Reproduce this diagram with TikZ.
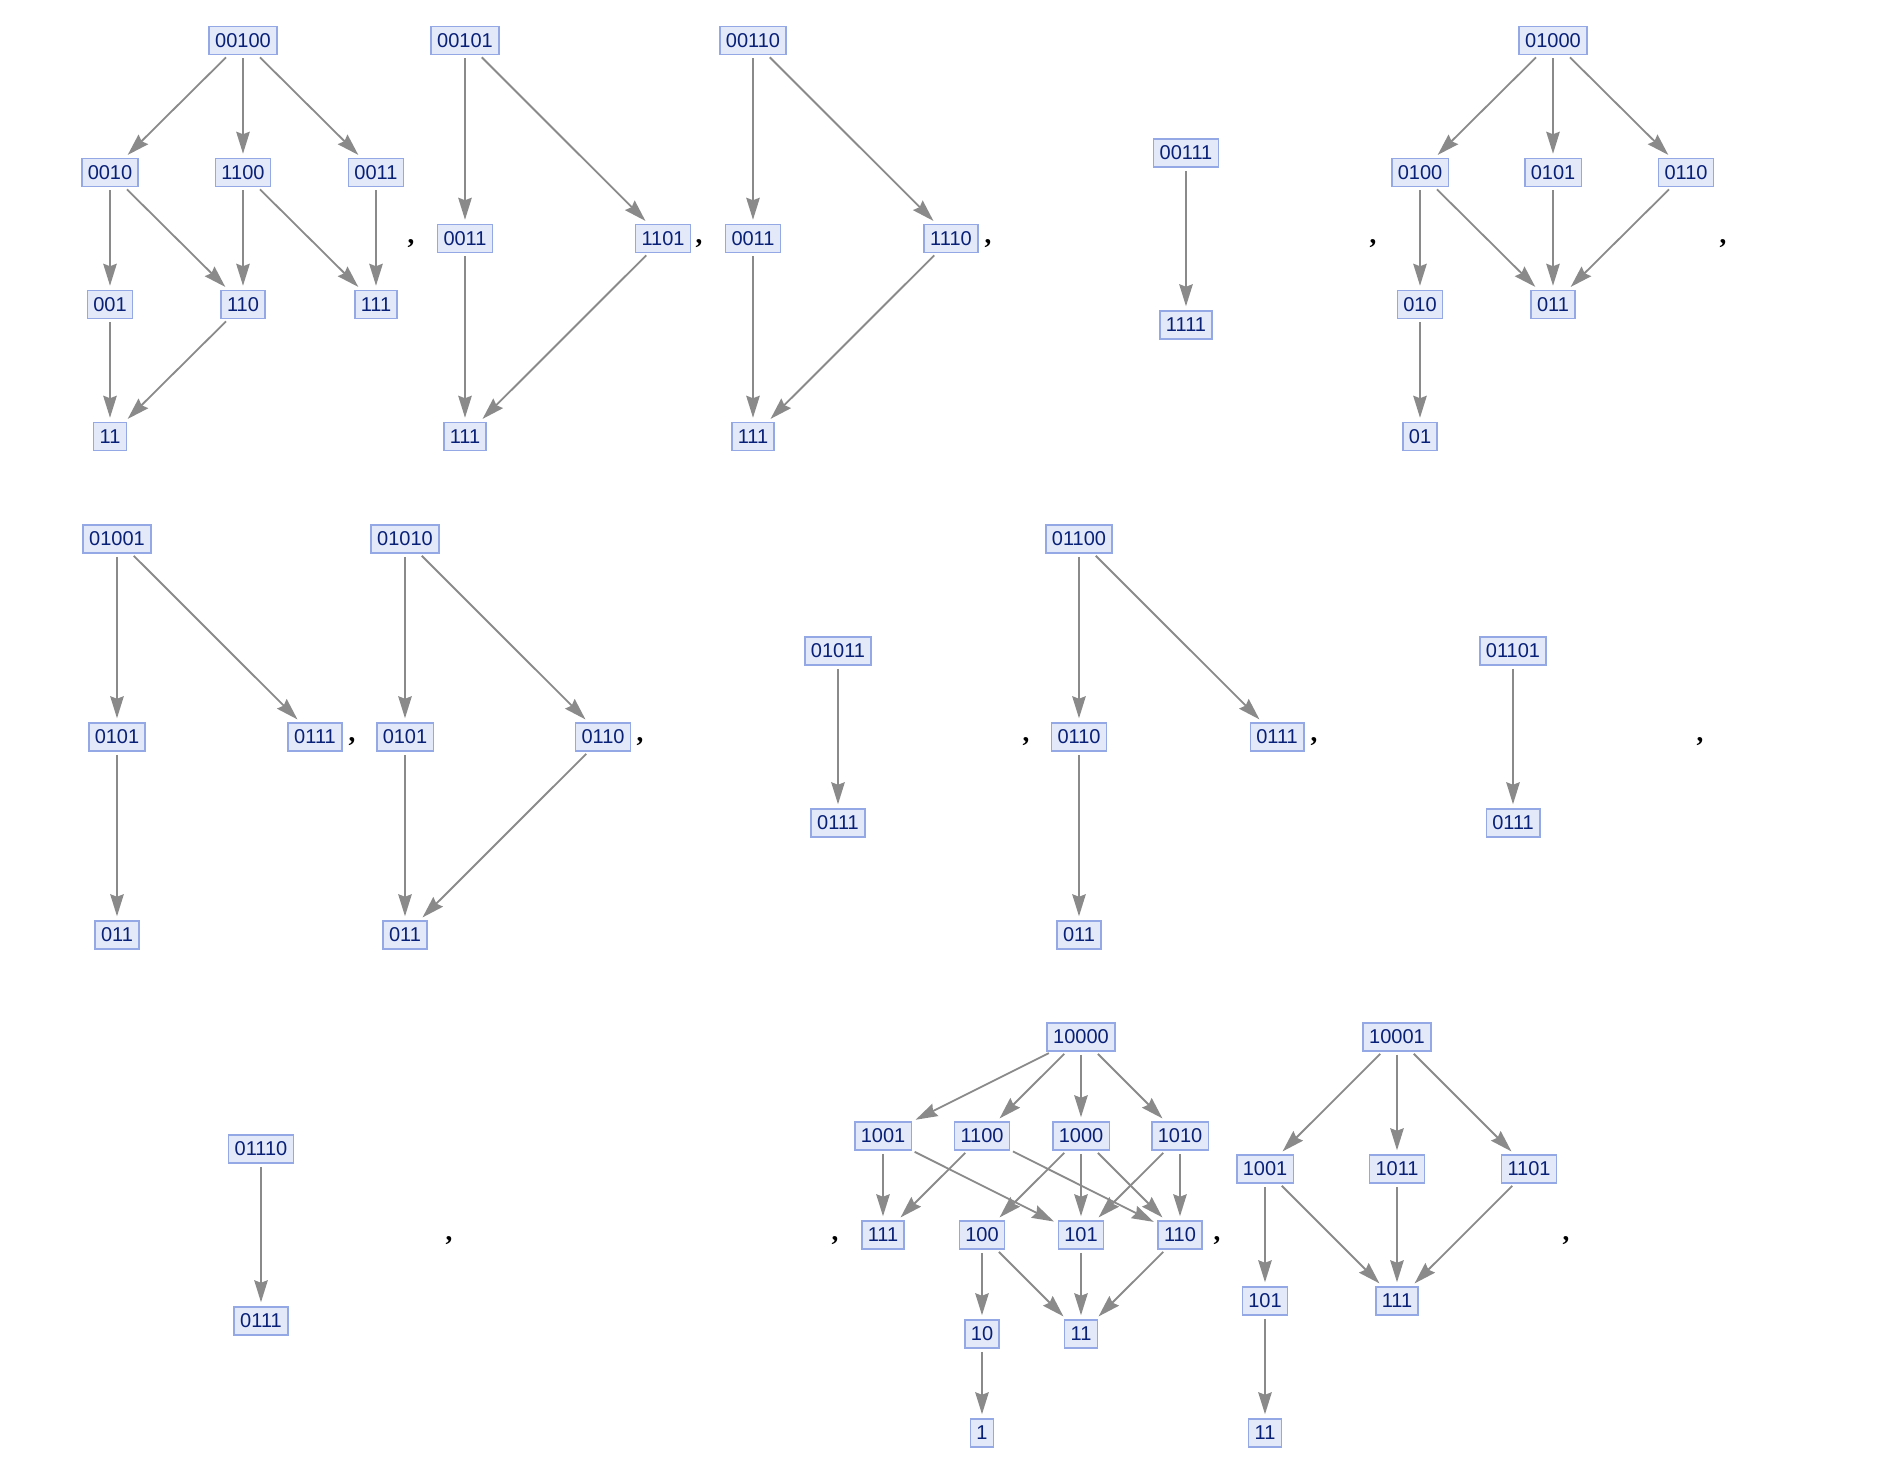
\documentclass[tikz,border=0pt]{standalone}
\usepackage{fontspec}
\usetikzlibrary{arrows.meta}
\newfontfamily\vfontfam{Liberation Sans}
\newfontfamily\cmfontfam{Liberation Serif}
\newcommand\vfont{\vfontfam\fontsize{20}{21}\selectfont}
\newcommand\cmfont{\cmfontfam\bfseries\fontsize{27}{28}\selectfont}
\definecolor{vfill}{RGB}{227,233,248}
\definecolor{vborder}{RGB}{148,168,230}
\definecolor{vtext}{RGB}{8,32,120}
\definecolor{ecol}{RGB}{138,138,138}
\tikzset{
  vbox/.style={draw=vborder, fill=vfill, line width=1.5pt, text=vtext, inner xsep=6pt, inner ysep=0pt, minimum height=28pt, font=\vfont},
  edgearr/.style={draw=ecol, line width=1.8pt, -{Stealth[length=22pt,width=13.5pt,inset=2.5pt,color=ecol]}, shorten <=3pt, shorten >=4pt},
  commalbl/.style={anchor=base, inner sep=0pt, font=\cmfont}
}
\begin{document}
\begin{tikzpicture}[x=1pt,y=-1pt]
\useasboundingbox (0,0) rectangle (1888,1480);
% ---------- Row 1 ----------
% Graph A
\node[vbox] (A00100) at (243,40.5) {00100};
\node[vbox] (A0010) at (110,172.5) {0010};
\node[vbox] (A1100) at (243,172.5) {1100};
\node[vbox] (A0011) at (376,172.5) {0011};
\node[vbox] (A001) at (110,304.5) {001};
\node[vbox] (A110) at (243,304.5) {110};
\node[vbox] (A111) at (376,304.5) {111};
\node[vbox] (A11) at (110,436.5) {11};
\foreach \s/\t in {A00100/A0010,A00100/A1100,A00100/A0011,A0010/A001,A0010/A110,A1100/A110,A1100/A111,A0011/A111,A001/A11,A110/A11}
  \draw[edgearr] (\s) -- (\t);
\node[commalbl] (c1) at (411,243) {,};
% Graph B
\node[vbox] (B00101) at (465,40.5) {00101};
\node[vbox] (B0011) at (465,238.5) {0011};
\node[vbox] (B1101) at (663,238.5) {1101};
\node[vbox] (B111) at (465,436.5) {111};
\foreach \s/\t in {B00101/B0011,B00101/B1101,B0011/B111,B1101/B111}
  \draw[edgearr] (\s) -- (\t);
\node[commalbl] (c2) at (699,243) {,};
% Graph C
\node[vbox] (C00110) at (753,40.5) {00110};
\node[vbox] (C0011) at (753,238.5) {0011};
\node[vbox] (C1110) at (951,238.5) {1110};
\node[vbox] (C111) at (753,436.5) {111};
\foreach \s/\t in {C00110/C0011,C00110/C1110,C0011/C111,C1110/C111}
  \draw[edgearr] (\s) -- (\t);
\node[commalbl] (c3) at (988,243) {,};
% Graph D
\node[vbox] (D00111) at (1186,153) {00111};
\node[vbox] (D1111) at (1186,325) {1111};
\draw[edgearr] (D00111) -- (D1111);
\node[commalbl] (c4) at (1373,243) {,};
% Graph E
\node[vbox] (E01000) at (1553,40.5) {01000};
\node[vbox] (E0100) at (1420,172.5) {0100};
\node[vbox] (E0101) at (1553,172.5) {0101};
\node[vbox] (E0110) at (1686,172.5) {0110};
\node[vbox] (E010) at (1420,304.5) {010};
\node[vbox] (E011) at (1553,304.5) {011};
\node[vbox] (E01) at (1420,436.5) {01};
\foreach \s/\t in {E01000/E0100,E01000/E0101,E01000/E0110,E0100/E010,E0100/E011,E0101/E011,E0110/E011,E010/E01}
  \draw[edgearr] (\s) -- (\t);
\node[commalbl] (c5) at (1723,243) {,};
% ---------- Row 2 ----------
% Graph F
\node[vbox] (F01001) at (117,539) {01001};
\node[vbox] (F0101) at (117,737) {0101};
\node[vbox] (F0111) at (315,737) {0111};
\node[vbox] (F011) at (117,935) {011};
\foreach \s/\t in {F01001/F0101,F01001/F0111,F0101/F011}
  \draw[edgearr] (\s) -- (\t);
\node[commalbl] (c6) at (352,741.5) {,};
% Graph G
\node[vbox] (G01010) at (405,539) {01010};
\node[vbox] (G0101) at (405,737) {0101};
\node[vbox] (G0110) at (603,737) {0110};
\node[vbox] (G011) at (405,935) {011};
\foreach \s/\t in {G01010/G0101,G01010/G0110,G0101/G011,G0110/G011}
  \draw[edgearr] (\s) -- (\t);
\node[commalbl] (c7) at (640,741.5) {,};
% Graph H
\node[vbox] (H01011) at (838,651) {01011};
\node[vbox] (H0111) at (838,823) {0111};
\draw[edgearr] (H01011) -- (H0111);
\node[commalbl] (c8) at (1026,741.5) {,};
% Graph I
\node[vbox] (I01100) at (1079,539) {01100};
\node[vbox] (I0110) at (1079,737) {0110};
\node[vbox] (I0111) at (1277,737) {0111};
\node[vbox] (I011) at (1079,935) {011};
\foreach \s/\t in {I01100/I0110,I01100/I0111,I0110/I011}
  \draw[edgearr] (\s) -- (\t);
\node[commalbl] (c9) at (1314,741.5) {,};
% Graph J
\node[vbox] (J01101) at (1513,651) {01101};
\node[vbox] (J0111) at (1513,823) {0111};
\draw[edgearr] (J01101) -- (J0111);
\node[commalbl] (c10) at (1700,741.5) {,};
% ---------- Row 3 ----------
% Graph K
\node[vbox] (K01110) at (261,1149) {01110};
\node[vbox] (K0111) at (261,1321) {0111};
\draw[edgearr] (K01110) -- (K0111);
\node[commalbl] (c11) at (449,1240) {,};
% empty graph
\node[commalbl] (c12) at (835,1240) {,};
% Graph L
\node[vbox] (L10000) at (1081,1037) {10000};
\node[vbox] (L1001) at (883,1136) {1001};
\node[vbox] (L1100) at (982,1136) {1100};
\node[vbox] (L1000) at (1081,1136) {1000};
\node[vbox] (L1010) at (1180,1136) {1010};
\node[vbox] (L111) at (883,1235) {111};
\node[vbox] (L100) at (982,1235) {100};
\node[vbox] (L101) at (1081,1235) {101};
\node[vbox] (L110) at (1180,1235) {110};
\node[vbox] (L10) at (982,1334) {10};
\node[vbox] (L11) at (1081,1334) {11};
\node[vbox] (L1) at (982,1433) {1};
\foreach \s/\t in {L10000/L1001,L10000/L1100,L10000/L1000,L10000/L1010,
  L1001/L111,L1001/L101,L1100/L111,L1100/L110,L1000/L100,L1000/L101,L1000/L110,
  L1010/L101,L1010/L110,L100/L10,L100/L11,L101/L11,L110/L11,L10/L1}
  \draw[edgearr] (\s) -- (\t);
\node[commalbl] (c13) at (1217,1240) {,};
% Graph M
\node[vbox] (M10001) at (1397,1037) {10001};
\node[vbox] (M1001) at (1265,1169) {1001};
\node[vbox] (M1011) at (1397,1169) {1011};
\node[vbox] (M1101) at (1529,1169) {1101};
\node[vbox] (M101) at (1265,1301) {101};
\node[vbox] (M111) at (1397,1301) {111};
\node[vbox] (M11) at (1265,1433) {11};
\foreach \s/\t in {M10001/M1001,M10001/M1011,M10001/M1101,M1001/M101,M1001/M111,M1011/M111,M1101/M111,M101/M11}
  \draw[edgearr] (\s) -- (\t);
\node[commalbl] (c14) at (1566,1240) {,};
\end{tikzpicture}
\end{document}
